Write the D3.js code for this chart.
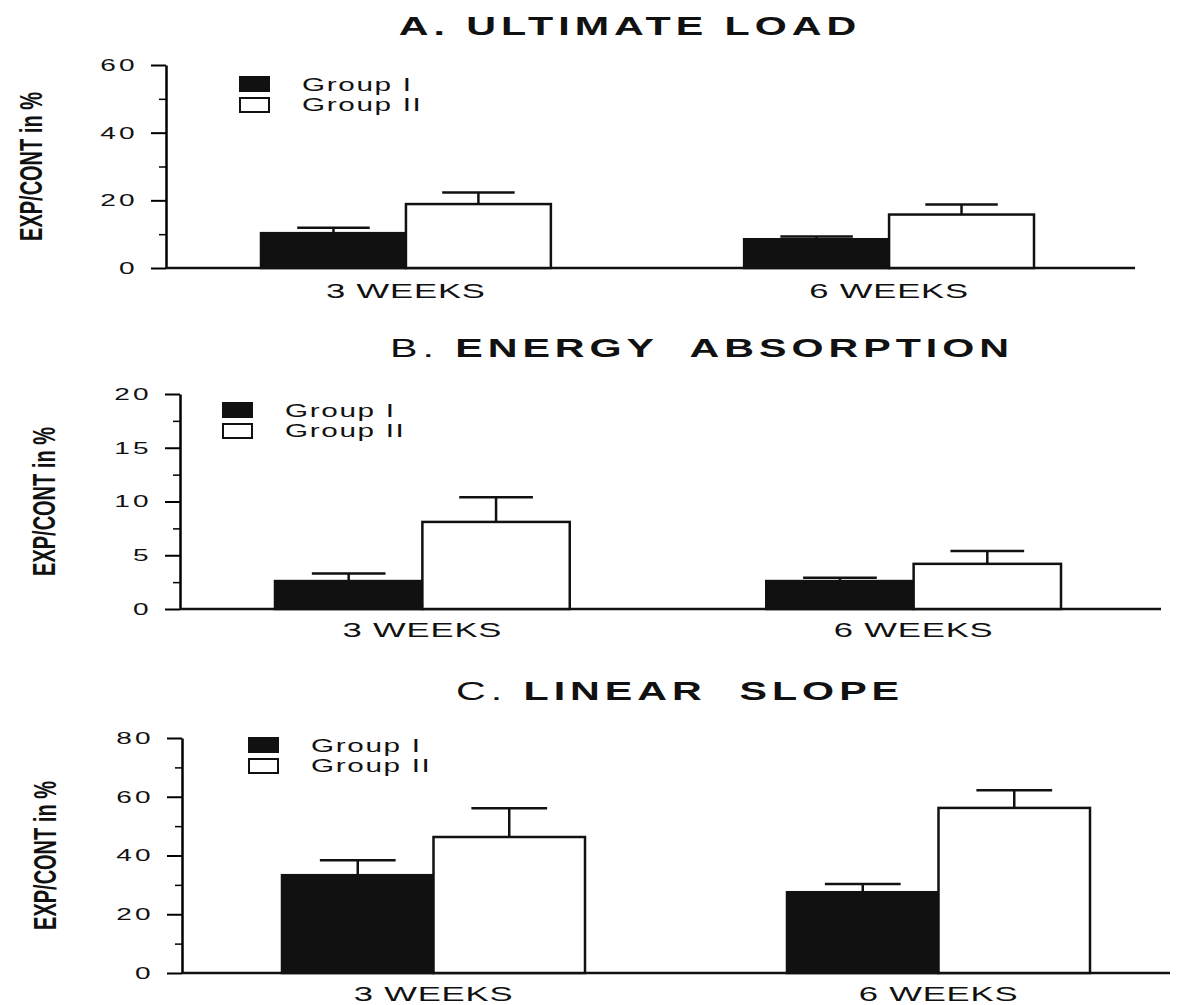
<!DOCTYPE html>
<html>
<head>
<meta charset="utf-8">
<script src="https://cdn.jsdelivr.net/npm/d3@7"></script>
<style>
body { margin: 0; background: #fff; }
svg text { font-family: "Liberation Sans", Arial, Helvetica, sans-serif; fill: #111; }
</style>
</head>
<body>
<svg width="1183" height="1005"></svg>
<script>
var weeks = ["3 WEEKS", "6 WEEKS"];
var groups = ["Group I", "Group II"];

// A. ultimate load (EXP/CONT in %), mean and SEM per week
var loadG1 = [10.3, 8.5];
var loadG1Sem = [1.6, 0.8];
var loadG2 = [18.9, 15.8];
var loadG2Sem = [3.4, 3.0];
var loadTicks = [0, 20, 40, 60];
var loadMinor = [10, 30, 50];

// B. energy absorption
var energyG1 = [2.6, 2.6];
var energyG1Sem = [0.7, 0.3];
var energyG2 = [8.1, 4.2];
var energyG2Sem = [2.3, 1.2];
var energyTicks = [0, 5, 10, 15, 20];
var energyMinor = [2.5, 7.5, 12.5, 17.5];

// C. linear slope
var slopeG1 = [33.3, 27.5];
var slopeG1Sem = [5.1, 2.8];
var slopeG2 = [46.3, 56.2];
var slopeG2Sem = [9.8, 6.0];
var slopeTicks = [0, 20, 40, 60, 80];
var slopeMinor = [10, 30, 50, 70];

var svg = d3.select("svg");
var SX = 1.65; // the print is stretched sideways

var panels = [
    {letter: "A.", name: "ULTIMATE LOAD", boldLetter: true, g1: loadG1, g1Sem: loadG1Sem, g2: loadG2, g2Sem: loadG2Sem,
     ticks: loadTicks, minor: loadMinor, axisX: 166, top: 65, bottom: 268, right: 1135, bars: [261, 1034],
     titleX: 630, titleY: 35, labelX: 42, legX: 240, legY: 77, catY: 298},
    {letter: "B.", name: "ENERGY  ABSORPTION", boldLetter: false, g1: energyG1, g1Sem: energyG1Sem, g2: energyG2, g2Sem: energyG2Sem,
     ticks: energyTicks, minor: energyMinor, axisX: 180, top: 394, bottom: 609, right: 1161, bars: [275, 1061],
     titleX: 702, titleY: 357, labelX: 55, legX: 223, legY: 403, catY: 637},
    {letter: "C.", name: "LINEAR  SLOPE", boldLetter: false, g1: slopeG1, g1Sem: slopeG1Sem, g2: slopeG2, g2Sem: slopeG2Sem,
     ticks: slopeTicks, minor: slopeMinor, axisX: 182, top: 738, bottom: 973, right: 1170, bars: [282, 1090],
     titleX: 680, titleY: 700, labelX: 56, legX: 249, legY: 738, catY: 1001}
];

function stretched(g, x, y, str, size, anchor) {
    return g.append("text")
        .attr("transform", "translate(" + x + "," + y + ") scale(" + SX + ",1)")
        .attr("text-anchor", anchor)
        .style("font-size", size + "px")
        .text(str);
}

panels.forEach(function(p) {
    var g = svg.append("g");
    var yMax = p.ticks[p.ticks.length - 1];

    var y = d3.scaleLinear().domain([0, yMax]).range([p.bottom, p.top]);
    var x = d3.scaleBand().domain(weeks).range(p.bars).paddingInner(0.4).paddingOuter(0);
    var xSub = d3.scaleBand().domain(groups).range([0, x.bandwidth()]);

    // title
    var title = g.append("text")
        .attr("transform", "translate(" + p.titleX + "," + p.titleY + ") scale(" + SX + ",1)")
        .attr("text-anchor", "middle")
        .style("font-size", "25px")
        .style("letter-spacing", "3px")
        .style("white-space", "pre");
    title.append("tspan").style("font-weight", p.boldLetter ? "bold" : "normal").text(p.letter + " ");
    title.append("tspan").style("font-weight", "bold").text(p.name);

    // y axis
    var major = g.append("g")
        .attr("transform", "translate(" + p.axisX + ",0)")
        .call(d3.axisLeft(y).tickValues(p.ticks).tickSize(15).tickSizeOuter(0));
    major.select(".domain").attr("stroke-width", 2.5);
    major.selectAll(".tick line").attr("stroke-width", 2);
    major.selectAll(".tick text")
        .attr("x", 0)
        .attr("transform", "translate(-28,0) scale(" + SX + ",1)")
        .style("font-size", "17px")
        .style("letter-spacing", "2px")
        .style("font-family", "'Liberation Sans', Arial, sans-serif")
        .attr("fill", "#111");

    var minor = g.append("g")
        .attr("transform", "translate(" + p.axisX + ",0)")
        .call(d3.axisLeft(y).tickValues(p.minor).tickSize(7).tickFormat(""));
    minor.select(".domain").remove();
    minor.selectAll(".tick line").attr("stroke-width", 1.5);

    // baseline
    g.append("line")
        .attr("x1", p.axisX).attr("x2", p.right)
        .attr("y1", y(0)).attr("y2", y(0))
        .attr("stroke", "#111").attr("stroke-width", 2.5);

    // y label
    g.append("text")
        .attr("transform", "translate(" + p.labelX + "," + (p.top + p.bottom) / 2 + ") scale(1.55,1) rotate(-90)")
        .attr("text-anchor", "middle")
        .style("font-size", "20px")
        .style("font-weight", "bold")
        .text("EXP/CONT in %");

    // bars
    var rows = [];
    weeks.forEach(function(w, i) {
        rows.push({week: w, group: groups[0], v: p.g1[i], sem: p.g1Sem[i], fill: "#111"});
        rows.push({week: w, group: groups[1], v: p.g2[i], sem: p.g2Sem[i], fill: "#fff"});
    });

    g.selectAll("rect.bar")
        .data(rows)
        .enter()
        .append("rect")
        .attr("class", "bar")
        .attr("x", function(d) { return x(d.week) + xSub(d.group); })
        .attr("y", function(d) { return y(d.v); })
        .attr("width", xSub.bandwidth())
        .attr("height", function(d) { return y(0) - y(d.v); })
        .attr("fill", function(d) { return d.fill; })
        .attr("stroke", "#111")
        .attr("stroke-width", 2.5);

    // error bars (upper half only)
    var err = g.selectAll("g.err")
        .data(rows)
        .enter()
        .append("g")
        .attr("class", "err");
    err.append("line")
        .attr("x1", function(d) { return x(d.week) + xSub(d.group) + xSub.bandwidth() / 2; })
        .attr("x2", function(d) { return x(d.week) + xSub(d.group) + xSub.bandwidth() / 2; })
        .attr("y1", function(d) { return y(d.v); })
        .attr("y2", function(d) { return y(d.v + d.sem); })
        .attr("stroke", "#111").attr("stroke-width", 2.5);
    err.append("line")
        .attr("x1", function(d) { return x(d.week) + xSub(d.group) + xSub.bandwidth() / 4; })
        .attr("x2", function(d) { return x(d.week) + xSub(d.group) + xSub.bandwidth() * 3 / 4; })
        .attr("y1", function(d) { return y(d.v + d.sem); })
        .attr("y2", function(d) { return y(d.v + d.sem); })
        .attr("stroke", "#111").attr("stroke-width", 2.5);

    // category labels
    weeks.forEach(function(w) {
        stretched(g, x(w) + x.bandwidth() / 2, p.catY, w, 21, "middle")
            .style("letter-spacing", "0.5px");
    });

    // legend
    groups.forEach(function(name, j) {
        g.append("rect")
            .attr("x", p.legX)
            .attr("y", p.legY + j * 21)
            .attr("width", 29)
            .attr("height", 14)
            .attr("fill", j === 0 ? "#111" : "#fff")
            .attr("stroke", "#111")
            .attr("stroke-width", 2);
        stretched(g, p.legX + 62, p.legY + 14 + j * 20, name, 18, "start")
            .style("letter-spacing", "1px");
    });
});
</script>
</body>
</html>
